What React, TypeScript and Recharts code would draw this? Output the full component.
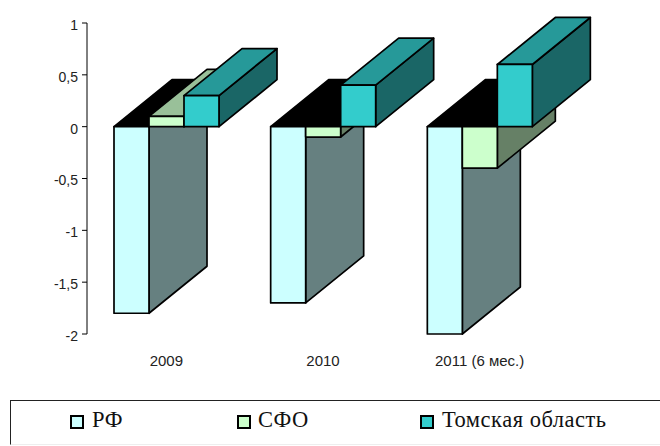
import React from "react";
import { BarChart, Bar, XAxis, YAxis, Legend } from "recharts";

const categories = ["2009", "2010", "2011 (6 мес.)"];
const rf = [-1.8, -1.7, -2];
const sfo = [0.1, -0.1, -0.4];
const tomsk = [0.3, 0.4, 0.6];
const yTicks = [-2, -1.5, -1, -0.5, 0, 0.5, 1];

const data = categories.map((name, i) => ({ name, rf: rf[i], sfo: sfo[i], tomsk: tomsk[i] }));

const DX = 58;
const DY = -47;
const SW = 1.7;

const palettes: Record<string, { front: string; top: string; side: string; legend: string }> = {
  rf: { front: "#ccffff", top: "#99c0c0", side: "#668080", legend: "РФ" },
  sfo: { front: "#ccffcc", top: "#99c099", side: "#668066", legend: "СФО" },
  tomsk: { front: "#33cccc", top: "#269999", side: "#1a6666", legend: "Томская область" },
};

const poly = (pts: number[][]) => pts.map((p) => p.join(",")).join(" ");

function Box3D(props: any) {
  const { x, y, width, height, payload, k } = props;
  const neg = payload[k] < 0;
  const p = palettes[k];
  const y0 = Math.min(y, y + height);
  const y1 = Math.max(y, y + height);
  const x1 = x + width;
  return (
    <g stroke="#000" strokeWidth={SW} strokeLinejoin="round">
      <polygon
        fill={p.side}
        points={poly([[x1, y0], [x1 + DX, y0 + DY], [x1 + DX, y1 + DY], [x1, y1]])}
      />
      <polygon
        fill={neg ? "#000" : p.top}
        points={poly([[x, y0], [x1, y0], [x1 + DX, y0 + DY], [x + DX, y0 + DY]])}
      />
      <rect x={x} y={y0} width={width} height={y1 - y0} fill={p.front} />
    </g>
  );
}

const legendX: Record<string, [number, number]> = {
  rf: [70, 92],
  sfo: [237, 258],
  tomsk: [420, 442],
};

function LegendBox(props: any) {
  const items = props.payload || [];
  return (
    <div
      style={{
        position: "absolute",
        left: 10,
        top: 400,
        width: 650,
        height: 45,
        boxSizing: "border-box",
        borderTop: "1px solid #222",
        borderLeft: "1px solid #222",
        borderBottom: "1px solid #eee",
      }}
    >
      {items.map((it: any) => {
        const k = it.dataKey as string;
        const [sx, tx] = legendX[k];
        return (
          <React.Fragment key={k}>
            <div
              style={{
                position: "absolute",
                left: sx - 11,
                top: 14,
                width: 14,
                height: 14,
                boxSizing: "border-box",
                background: palettes[k].front,
                border: "2px solid #000",
              }}
            />
            <div
              style={{
                position: "absolute",
                left: tx - 11,
                top: 6,
                fontFamily: "'Liberation Serif', serif",
                fontSize: 22.5,
                lineHeight: "26px",
                color: "#111",
                whiteSpace: "nowrap",
                letterSpacing: 0.5,
              }}
            >
              {it.value}
            </div>
          </React.Fragment>
        );
      })}
    </div>
  );
}

export default function App() {
  const keys = ["rf", "sfo", "tomsk"];
  return (
    <div style={{ position: "absolute", left: 0, top: 0, width: 660, height: 446, background: "#fff" }}>
      <BarChart
        width={660}
        height={446}
        data={data}
        margin={{ top: 23, right: 102, bottom: 0, left: 0 }}
        barCategoryGap={26}
        barGap={0}
      >
        <XAxis
          dataKey="name"
          axisLine={false}
          tickLine={false}
          height={112}
          tickMargin={15}
          interval={0}
          padding={{ left: 1, right: 0 }}
          tick={{ fontFamily: "'Liberation Sans', Arial", fontSize: 15, fill: "#222" }}
        />
        <YAxis
          width={87}
          domain={[-2, 1]}
          ticks={yTicks}
          interval={0}
          tickSize={5}
          tickMargin={4}
          tickFormatter={(v: number) => String(v).replace(".", ",")}
          axisLine={{ stroke: "#000", strokeWidth: 1 }}
          tickLine={{ stroke: "#000", strokeWidth: 1 }}
          tick={{ fontFamily: "'Liberation Sans', Arial", fontSize: 14, fill: "#222", dy: 2 }}
        />
        <Legend
          content={<LegendBox />}
          wrapperStyle={{ position: "absolute", left: 0, top: 0, bottom: "auto", width: 660, height: 0 }}
        />
        {keys.map((k) => (
          <Bar
            key={k}
            dataKey={k}
            name={palettes[k].legend}
            isAnimationActive={false}
            fill={palettes[k].front}
            shape={(p: any) => <Box3D {...p} k={k} />}
          />
        ))}
      </BarChart>
    </div>
  );
}
